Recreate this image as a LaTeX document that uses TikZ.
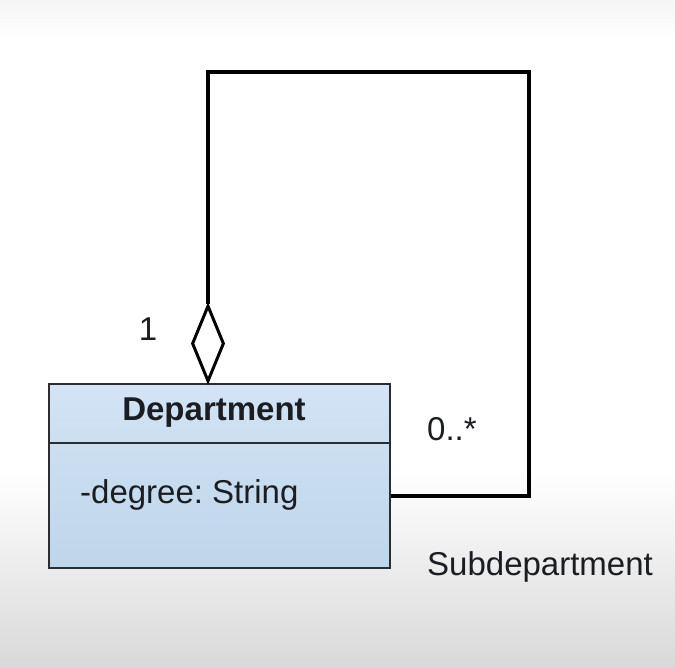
\documentclass[tikz,border=0pt]{standalone}
\usepackage{fontspec}
\setmainfont{Liberation Sans}
\usetikzlibrary{shapes.geometric}
\definecolor{boxtop}{HTML}{D2E4F5}
\definecolor{boxbot}{HTML}{BFD5EA}
\definecolor{boxline}{HTML}{2A2E33}
\definecolor{txt}{HTML}{1A1D22}
\frenchspacing
\begin{document}
\begin{tikzpicture}[x=1pt,y=-1pt,
  conn/.style={line width=3.1pt, black, line join=miter},
  lbl/.style={inner sep=0pt, text=txt, font=\fontsize{33}{38}\selectfont},
]
\useasboundingbox (0,0) rectangle (675,667);
% background
\fill[white] (0,0) rectangle (675,667);
\shade[top color=white, bottom color=black!15] (0,470) rectangle (675,667);
\shade[top color=black!4, bottom color=white] (0,0) rectangle (675,40);
% class box
\node[draw=boxline, line width=1.5pt, top color=boxtop, bottom color=boxbot,
      minimum width=341pt, minimum height=184pt, inner sep=0pt, anchor=north west]
      (dept) at (48,383) {};
\coordinate (divl) at (48,443);
\draw[boxline, line width=1.5pt] (divl) -- (divl -| dept.east);
\node[lbl, font=\bfseries\fontsize{33}{38}\selectfont, anchor=base] (name) at (214,420) {Department};
\node[lbl, anchor=base west] (attr) at (80,503) {-degree: String};
% aggregation diamond
\node[diamond, draw=black, line width=3pt, fill=white, minimum width=32pt, minimum height=76pt,
      inner sep=0pt, anchor=south] (dia) at (208,383) {};
% connector
\coordinate (tr) at (529,72);
\coordinate (br) at (529,496);
\draw[conn] (dia.north) |- (tr) -- (br) -- (br -| dept.east);
% labels
\node[lbl, anchor=base] (one) at (148,340) {1};
\node[lbl, anchor=base west] (many) at (427,440) {0..*};
\node[lbl, anchor=base west] (role) at (427,575) {Subdepartment};
\end{tikzpicture}
\end{document}
